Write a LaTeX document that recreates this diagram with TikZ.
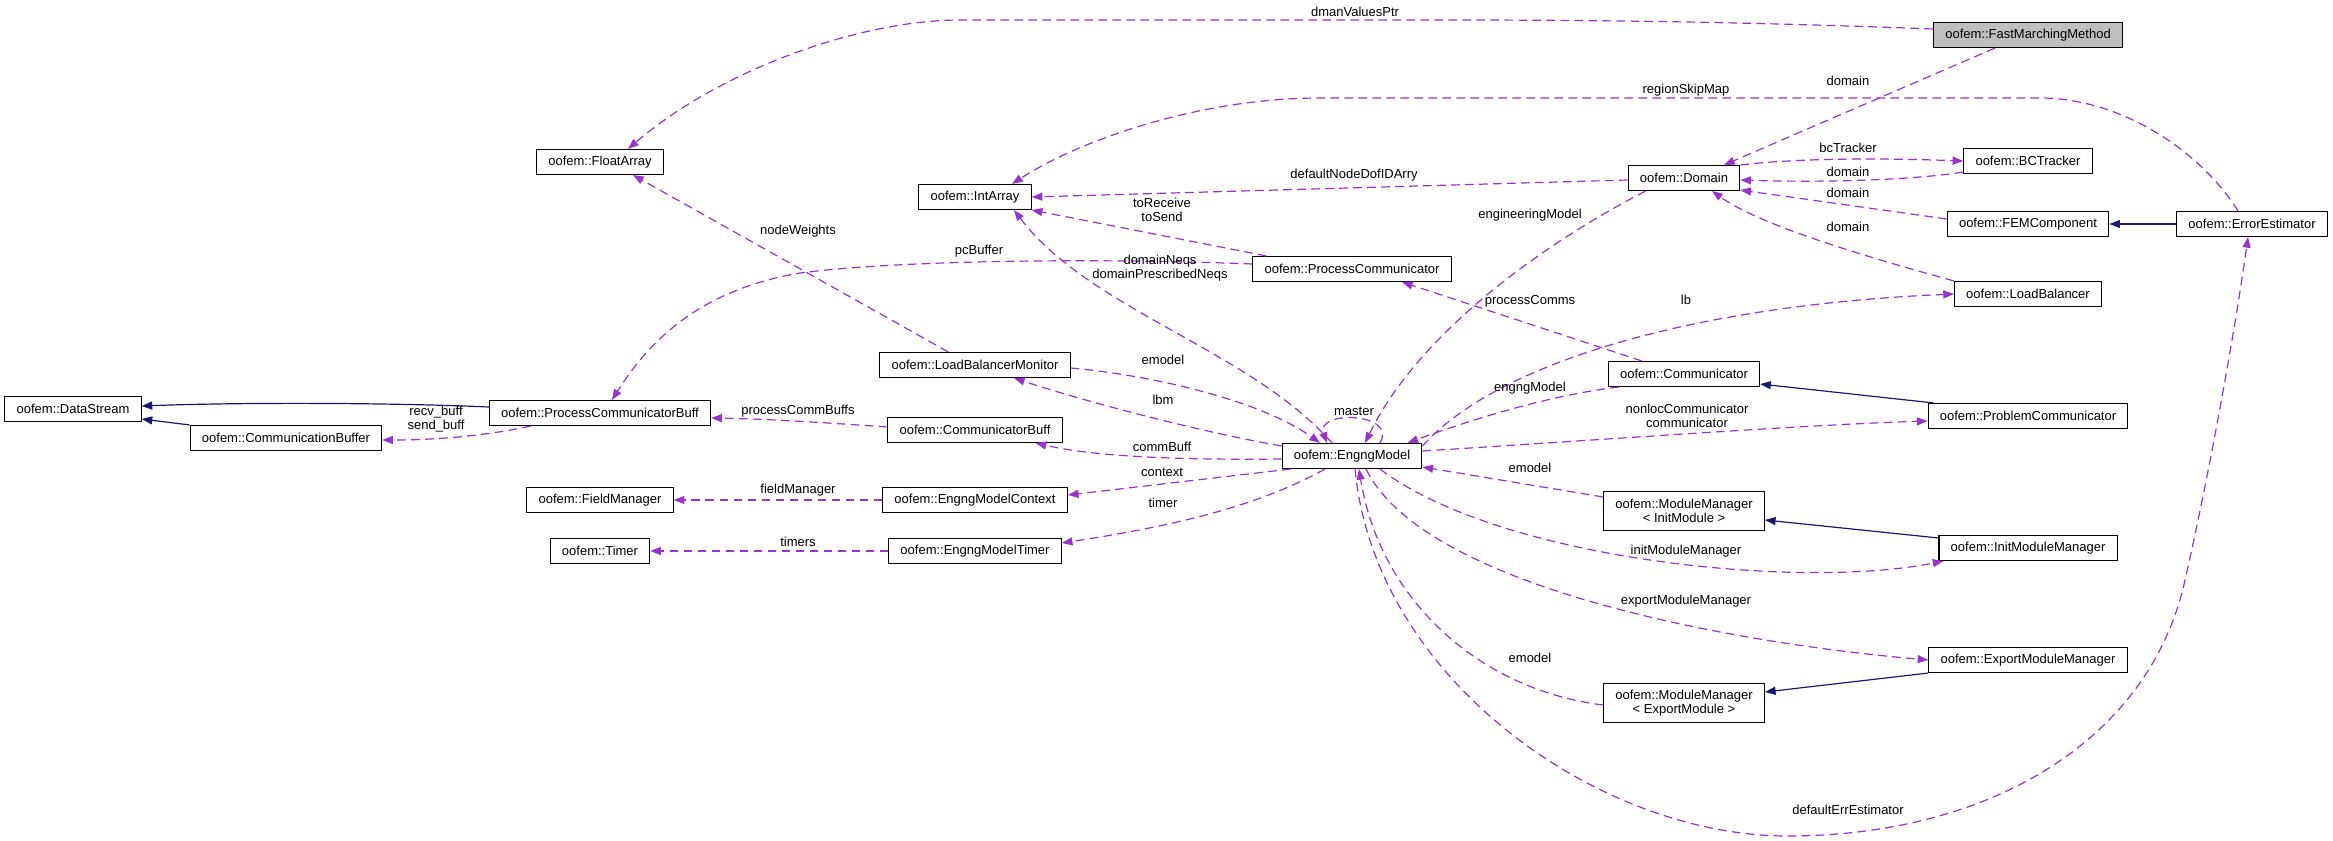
\documentclass[tikz,border=0pt]{standalone}
\usepackage{fontspec}
\setmainfont{Liberation Sans}
\usetikzlibrary{arrows.meta,calc}
\definecolor{depcol}{HTML}{9A32CD}
\definecolor{inhcol}{HTML}{191970}

\begin{document}
\begin{tikzpicture}[x=0.75pt,y=-0.75pt,
  font=\fontsize{9.75pt}{10.5pt}\selectfont,
  cls/.style={draw=black,line width=0.8pt,fill=white,inner xsep=8.8pt,inner ysep=2pt,minimum height=18.75pt},
  cls2/.style={cls,align=center,minimum height=29.25pt},
  dep/.style={draw=depcol,line width=0.9pt,dash pattern=on 6.5pt off 4pt,-{Triangle[length=8pt,width=6pt,fill=depcol]}},
  inh/.style={draw=inhcol,line width=0.9pt,-{Triangle[length=8pt,width=6pt,fill=inhcol]}},
  lbl/.style={inner sep=0pt,align=center}]
  \useasboundingbox (0,0) rectangle (2333,841);

  \node[cls,fill={rgb,255:red,191;green,191;blue,191}] (fmm) at (2028,35) {oofem::FastMarchingMethod};
  \node[cls] (floatarr) at (600,162) {oofem::FloatArray};
  \node[cls] (intarr) at (975,197) {oofem::IntArray};
  \node[cls] (domain) at (1684,178) {oofem::Domain};
  \node[cls] (bctr) at (2028,161) {oofem::BCTracker};
  \node[cls] (femc) at (2028,224) {oofem::FEMComponent};
  \node[cls] (errest) at (2252,224) {oofem::ErrorEstimator};
  \node[cls] (pcomm) at (1352,269) {oofem::ProcessCommunicator};
  \node[cls] (lbal) at (2028,294) {oofem::LoadBalancer};
  \node[cls] (datastr) at (73,409) {oofem::DataStream};
  \node[cls] (pcbuff) at (600,413) {oofem::ProcessCommunicatorBuff};
  \node[cls] (lbmon) at (975,365) {oofem::LoadBalancerMonitor};
  \node[cls] (comm) at (1684,374) {oofem::Communicator};
  \node[cls] (probcomm) at (2028,416) {oofem::ProblemCommunicator};
  \node[cls] (commbuf) at (975,430) {oofem::CommunicatorBuff};
  \node[cls] (cbuf) at (286,438) {oofem::CommunicationBuffer};
  \node[cls] (engng) at (1352,456) {oofem::EngngModel};
  \node[cls] (fieldmgr) at (600,500) {oofem::FieldManager};
  \node[cls] (ctx) at (975,500) {oofem::EngngModelContext};
  \node[cls2] (mminit) at (1684,511) {oofem::ModuleManager\\< InitModule >};
  \node[cls] (imm) at (2028,548) {oofem::InitModuleManager};
  \node[cls] (timer) at (600,551) {oofem::Timer};
  \node[cls] (emtimer) at (975,551) {oofem::EngngModelTimer};
  \node[cls] (emm) at (2028,660) {oofem::ExportModuleManager};
  \node[cls2] (mmexp) at (1684,703) {oofem::ModuleManager\\< ExportModule >};

  \draw[dep] ($(fmm.west)+(0,-6)$) .. controls (1750,22) and (1600,20) .. (1450,20) -- (960,20) .. controls (860,20) and (720,70) .. ($(floatarr.north)+(28,0)$);
  \draw[dep] ($(errest.north)+(-14,0)$) .. controls (2200,150) and (2120,98) .. (2040,98) -- (1320,98) .. controls (1200,98) and (1080,140) .. ($(intarr.north)+(37,0)$);
  \draw[dep] ($(fmm.south)+(-33,0)$) -- ($(domain.north)+(40,0)$);
  \draw[dep] (domain.north east) .. controls (1800,158) and (1880,158) .. (bctr.west);
  \draw[dep] ($(bctr.south west)+(0,-2)$) .. controls (1900,182) and (1800,182) .. ($(domain.east)+(0,2)$);
  \draw[dep] ($(femc.west)+(0,-5)$) -- ($(domain.south east)+(0,-1)$);
  \draw[dep] (lbal.north west) .. controls (1860,255) and (1760,225) .. ($(domain.south)+(28,0)$);
  \draw[inh] (errest) -- (femc);
  \draw[dep] ($(domain.west)+(0,2)$) -- (intarr.east);
  \draw[dep] ($(domain.south west)+(18,0)$) .. controls (1550,240) and (1420,330) .. ($(engng.north)+(13,0)$);
  \draw[dep] ($(pcomm.north west)+(14,0)$) -- (intarr.south east);
  \draw[dep] ($(engng.north)+(-20,0)$) .. controls (1250,350) and (1090,310) .. ($(intarr.south)+(39,0)$);
  \draw[dep] ($(pcomm.west)+(0,-5)$) .. controls (1100,258) and (900,260) .. (800,273) .. controls (700,290) and (650,340) .. ($(pcbuff.north)+(12,0)$);
  \draw[dep] ($(lbmon.north west)+(69,0)$) -- ($(floatarr.south)+(33,0)$);
  \draw[dep] ($(engng.north west)+(0,3)$) .. controls (1200,432) and (1080,400) .. ($(lbmon.south)+(39,0)$);
  \draw[dep] ($(lbmon.east)+(0,3)$) .. controls (1150,375) and (1260,400) .. ($(engng.north)+(-32,0)$);
  \draw[dep] ($(engng.north)+(28,0)$) .. controls (1398,412) and (1315,410) .. ($(engng.north)+(-25,0)$);
  \draw[dep] ($(commbuf.west)+(0,-3)$) .. controls (830,423) and (770,419) .. ($(pcbuff.east)+(0,5)$);
  \draw[dep] ($(pcbuff.south west)+(42,0)$) .. controls (480,437) and (430,440) .. ($(cbuf.east)+(0,2)$);
  \draw[inh] ($(pcbuff.west)+(0,-6)$) .. controls (400,403) and (250,402) .. ($(datastr.east)+(0,-3)$);
  \draw[inh] (cbuf.north west) -- ($(datastr.south east)+(0,-3)$);
  \draw[dep] ($(engng.west)+(0,3)$) .. controls (1200,460) and (1100,458) .. ($(commbuf.south east)+(-27,0)$);
  \draw[dep] ($(engng.south west)+(9,0)$) -- ($(ctx.east)+(0,-5)$);
  \draw[dep] ($(engng.south)+(-27,0)$) .. controls (1260,505) and (1180,525) .. ($(emtimer.east)+(0,-8)$);
  \draw[dep] (ctx) -- (fieldmgr);
  \draw[dep] (emtimer) -- (timer);
  \draw[dep] ($(comm.north west)+(34,0)$) -- ($(pcomm.south)+(50,0)$);
  \draw[dep] ($(comm.south west)+(11,0)$) .. controls (1550,395) and (1470,420) .. ($(engng.north east)+(-15,0)$);
  \draw[dep] ($(engng.north east)+(0,3)$) .. controls (1500,360) and (1700,305) .. (lbal.west);
  \draw[inh] ($(probcomm.north west)+(6,0)$) -- ($(comm.south east)+(0,-3)$);
  \draw[dep] ($(engng.east)+(0,-5)$) .. controls (1600,440) and (1800,425) .. ($(probcomm.west)+(0,5)$);
  \draw[dep] ($(mminit.west)+(0,-14)$) -- ($(engng.south east)+(0,-2)$);
  \draw[inh] ($(imm.north west)+(0,3)$) -- ($(mminit.east)+(0,9)$);
  \draw[dep] ($(engng.south)+(28,0)$) .. controls (1500,560) and (1800,590) .. ($(imm.south west)+(5,0)$);
  \draw[dep] ($(engng.south)+(14,0)$) .. controls (1420,580) and (1700,640) .. (emm.west);
  \draw[inh] (emm.south west) -- ($(mmexp.east)+(0,-11)$);
  \draw[dep] ($(mmexp.west)+(0,2)$) .. controls (1480,690) and (1380,600) .. ($(engng.south)+(7,0)$);
  \draw[dep] ($(engng.south)+(3,0)$) .. controls (1375,680) and (1600,836) .. (1787,836) .. controls (1990,836) and (2150,740) .. (2185,580) .. controls (2210,470) and (2235,330) .. ($(errest.south)+(-4,0)$);

  \node[lbl] (l-dman) at (1355,12) {dmanValuesPtr};
  \node[lbl] (l-region) at (1686,90) {regionSkipMap};
  \node[lbl] (l-dom1) at (1848,81) {domain};
  \node[lbl] (l-bct) at (1848,148) {bcTracker};
  \node[lbl] (l-dom2) at (1848,172) {domain};
  \node[lbl] (l-dom3) at (1848,193) {domain};
  \node[lbl] (l-dom4) at (1848,227) {domain};
  \node[lbl] (l-dofid) at (1354,175) {defaultNodeDofIDArry};
  \node[lbl] (l-engmod) at (1530,215) {engineeringModel};
  \node[lbl] (l-recv) at (1162,210) {toReceive\\toSend};
  \node[lbl] (l-neqs) at (1160,268) {domainNeqs\\domainPrescribedNeqs};
  \node[lbl] (l-pcbuf) at (979,251) {pcBuffer};
  \node[lbl] (l-nodew) at (798,231) {nodeWeights};
  \node[lbl] (l-lbm) at (1163,400) {lbm};
  \node[lbl] (l-emod1) at (1163,360) {emodel};
  \node[lbl] (l-master) at (1354,411) {master};
  \node[lbl] (l-pcbs) at (798,411) {processCommBuffs};
  \node[lbl] (l-buff) at (436,419) {recv\_buff\\send\_buff};
  \node[lbl] (l-commbuf) at (1162,447) {commBuff};
  \node[lbl] (l-ctx) at (1162,472) {context};
  \node[lbl] (l-timer) at (1163,503) {timer};
  \node[lbl] (l-field) at (798,490) {fieldManager};
  \node[lbl] (l-timers) at (798,542) {timers};
  \node[lbl] (l-pcomms) at (1530,301) {processComms};
  \node[lbl] (l-engng) at (1530,388) {engngModel};
  \node[lbl] (l-lb) at (1686,300) {lb};
  \node[lbl] (l-nonloc) at (1687,416) {nonlocCommunicator\\communicator};
  \node[lbl] (l-emod2) at (1530,468) {emodel};
  \node[lbl] (l-initmm) at (1686,551) {initModuleManager};
  \node[lbl] (l-expmm) at (1686,601) {exportModuleManager};
  \node[lbl] (l-emod3) at (1530,658) {emodel};
  \node[lbl] (l-errest) at (1848,810) {defaultErrEstimator};
\end{tikzpicture}
\end{document}
